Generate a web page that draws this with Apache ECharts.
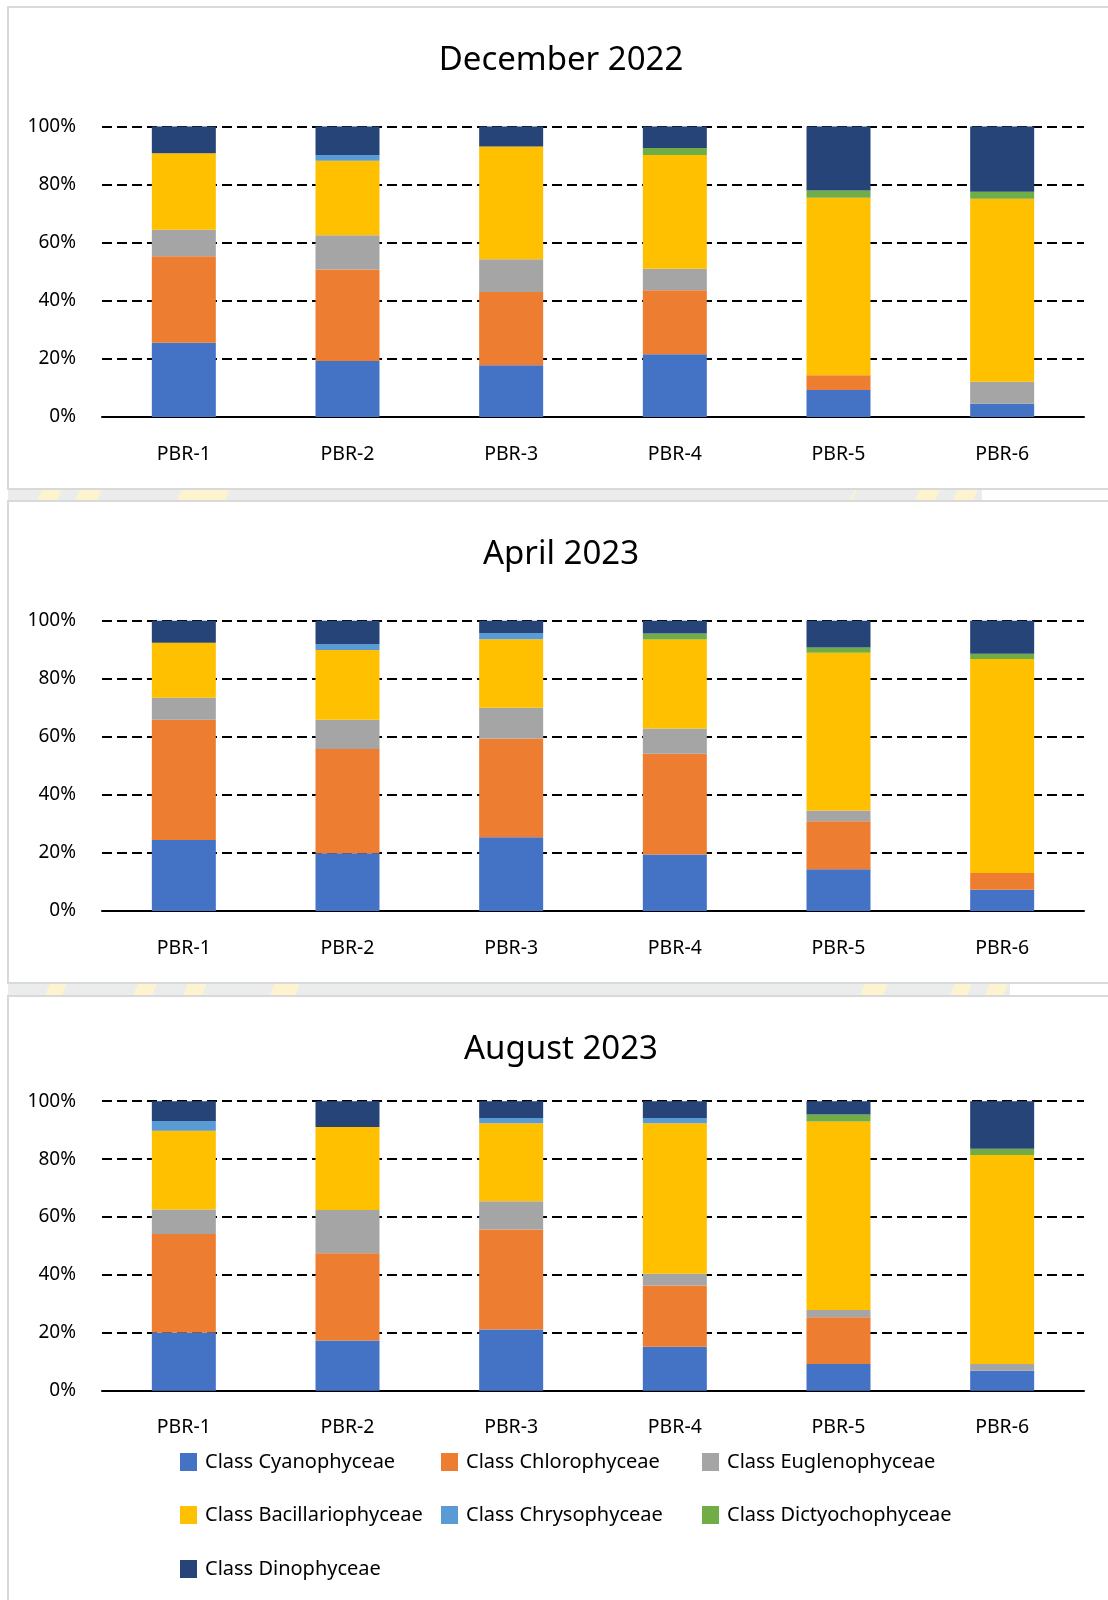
<!DOCTYPE html>
<html>
<head>
<meta charset="utf-8">
<script src="https://cdn.jsdelivr.net/npm/echarts@6/dist/echarts.min.js"></script>
<style>
body{margin:0;background:#fff;}
#main{width:1108px;height:1600px;}
</style>
</head>
<body>
<div id="main"></div>
<script>
var stations = ['PBR-1','PBR-2','PBR-3','PBR-4','PBR-5','PBR-6'];
var classes = ['Class Cyanophyceae','Class Chlorophyceae','Class Euglenophyceae','Class Bacillariophyceae','Class Chrysophyceae','Class Dictyochophyceae','Class Dinophyceae'];
var titles = ['December 2022','April 2023','August 2023'];
var yTicks = [0,20,40,60,80,100];

//December 2022
var dec22Cyano   = [25.6, 19.3, 17.8, 21.6,  9.3,  4.6];
var dec22Chloro  = [29.7, 31.5, 25.2, 22.0,  5.1,  0];
var dec22Eugleno = [ 9.2, 11.8, 11.3,  7.4,  0,    7.5];
var dec22Bacill  = [26.3, 25.6, 38.8, 39.2, 61.1, 63.0];
var dec22Chryso  = [ 0,    2.0,  0,    0,    0,    0];
var dec22Dictyo  = [ 0,    0,    0,    2.4,  2.5,  2.4];
var dec22Dino    = [ 9.2,  9.8,  6.9,  7.4, 22.0, 22.5];

//April 2023
var apr23Cyano   = [24.5, 19.9, 25.4, 19.5, 14.4,  7.3];
var apr23Chloro  = [41.4, 35.9, 34.0, 34.7, 16.5,  5.8];
var apr23Eugleno = [ 7.6, 10.1, 10.6,  8.7,  3.7,  0];
var apr23Bacill  = [18.9, 24.0, 23.6, 30.6, 54.4, 73.7];
var apr23Chryso  = [ 0,    2.1,  2.2,  0,    0,    0];
var apr23Dictyo  = [ 0,    0,    0,    2.1,  1.8,  1.8];
var apr23Dino    = [ 7.6,  8.0,  4.2,  4.4,  9.2, 11.4];

//August 2023
var aug23Cyano   = [20.1, 17.3, 21.1, 15.2,  9.2,  6.9];
var aug23Chloro  = [34.0, 30.2, 34.6, 21.1, 16.2,  0];
var aug23Eugleno = [ 8.5, 14.9,  9.7,  4.1,  2.5,  2.3];
var aug23Bacill  = [27.2, 28.7, 27.0, 52.0, 65.1, 72.2];
var aug23Chryso  = [ 3.4,  0,    1.8,  1.8,  0,    0];
var aug23Dictyo  = [ 0,    0,    0,    0,    2.4,  2.2];
var aug23Dino    = [ 6.8,  8.9,  5.8,  5.8,  4.6, 16.4];

var panels = [
    [dec22Cyano, dec22Chloro, dec22Eugleno, dec22Bacill, dec22Chryso, dec22Dictyo, dec22Dino],
    [apr23Cyano, apr23Chloro, apr23Eugleno, apr23Bacill, apr23Chryso, apr23Dictyo, apr23Dino],
    [aug23Cyano, aug23Chloro, aug23Eugleno, aug23Bacill, aug23Chryso, aug23Dictyo, aug23Dino]
];

var colors = ['#4472C4','#ED7D31','#A5A5A5','#FFC000','#5B9BD5','#70AD47','#264478'];
var font = '"Noto Sans", "Open Sans", sans-serif';

// layout of the three boxes
var gridTops = [126.5, 620.7, 1101.2];
var gridHeights = [290.5, 290.3, 289.5];
var titleTops = [39, 533, 1028];

var chart = echarts.init(document.getElementById('main'));

var grids = [], xAxes = [], yAxes = [], seriesList = [], titleList = [];
for (var p = 0; p < 3; p++) {
    grids.push({left: 102, width: 982, top: gridTops[p], height: gridHeights[p]});
    titleList.push({
        text: titles[p],
        left: 556,
        textAlign: 'center',
        top: titleTops[p],
        textStyle: {fontFamily: font, fontSize: 33, fontWeight: 'normal', color: '#000'}
    });
    xAxes.push({
        type: 'category',
        gridIndex: p,
        data: stations,
        axisTick: {show: false},
        axisLine: {lineStyle: {color: '#000', width: 2}},
        axisLabel: {margin: 27, fontFamily: font, fontSize: 19.5, color: '#000'}
    });
    yAxes.push({
        type: 'value',
        gridIndex: p,
        min: yTicks[0],
        max: yTicks[yTicks.length - 1],
        interval: 20,
        axisLine: {show: false},
        axisTick: {show: false},
        axisLabel: {margin: 26, fontFamily: font, fontSize: 19, color: '#000', formatter: '{value}%'},
        splitLine: {lineStyle: {color: '#000', width: 2, type: [10, 5]}}
    });
    for (var c = 0; c < classes.length; c++) {
        seriesList.push({
            name: classes[c],
            type: 'bar',
            stack: 'panel' + p,
            xAxisIndex: p,
            yAxisIndex: p,
            barWidth: 64,
            itemStyle: {color: colors[c]},
            emphasis: {disabled: true},
            data: panels[p][c]
        });
    }
}

// legend sits at the bottom of the last box, three columns
var legendCols = [180, 441, 702];
var legendRows = [1452, 1505, 1559];
var legends = [];
for (var i = 0; i < classes.length; i++) {
    legends.push({
        data: [classes[i]],
        left: legendCols[i % 3],
        top: legendRows[Math.floor(i / 3)],
        padding: 0,
        icon: 'rect',
        itemWidth: 17,
        itemHeight: 18,
        selectedMode: false,
        textStyle: {fontFamily: font, fontSize: 20, color: '#000', padding: [0, 0, 0, 3]}
    });
}

// boxes and the grey strips between them
var graphics = [
    {type: 'rect', shape: {x: 8, y: 489, width: 974, height: 12}, style: {fill: '#ebecec'}, z: -10},
    {type: 'rect', shape: {x: 8, y: 983, width: 1002, height: 13}, style: {fill: '#ebecec'}, z: -10},
    {type: 'rect', shape: {x: 8, y: 7, width: 1110, height: 482}, style: {fill: 'none', stroke: '#d9d9d9', lineWidth: 2}, z: -5},
    {type: 'rect', shape: {x: 8, y: 501, width: 1110, height: 482}, style: {fill: 'none', stroke: '#d9d9d9', lineWidth: 2}, z: -5},
    {type: 'rect', shape: {x: 8, y: 996, width: 1110, height: 620}, style: {fill: 'none', stroke: '#d9d9d9', lineWidth: 2}, z: -5}
];
var patches = [
    [37, 489, 62, 501], [75, 489, 102, 501], [177, 489, 230, 501], [850, 489, 857, 501], [915, 489, 940, 501], [953, 489, 978, 501],
    [45, 983, 67, 996], [133, 983, 157, 996], [183, 983, 207, 996], [270, 983, 300, 996], [860, 983, 888, 996], [950, 983, 972, 996], [985, 983, 1008, 996]
];
patches.forEach(function (q) {
    graphics.push({
        type: 'polygon',
        shape: {points: [[q[0] + 5, q[1]], [q[2], q[1]], [q[2] - 5, q[3]], [q[0], q[3]]]},
        style: {fill: '#fdf3cf'},
        z: -9
    });
});

chart.setOption({
    animation: false,
    color: colors,
    title: titleList,
    legend: legends,
    grid: grids,
    xAxis: xAxes,
    yAxis: yAxes,
    series: seriesList,
    graphic: graphics
});
</script>
</body>
</html>
